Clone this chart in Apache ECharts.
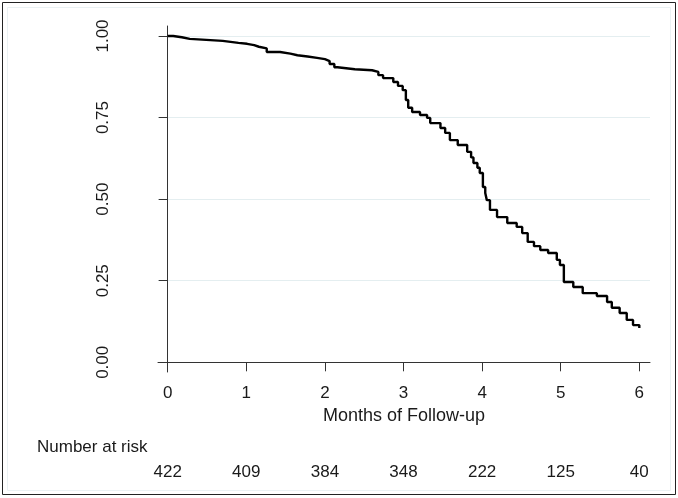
<!DOCTYPE html>
<html>
<head>
<meta charset="utf-8">
<title>Kaplan-Meier</title>
<script src="https://cdn.jsdelivr.net/npm/echarts@6/dist/echarts.min.js"></script>
<style>
  html, body { margin: 0; padding: 0; background: #fff; }
  #chart { width: 678px; height: 498px; }
</style>
</head>
<body>
<div id="chart"></div>
<script>
// step times (months) and survival after each step
var months = [
  0.00, 0.07, 0.18, 0.28, 0.70, 0.90, 1.01, 1.10, 1.16, 1.26,
  1.43, 1.56, 1.65, 1.78, 1.90, 2.00, 2.06, 2.12, 2.16, 2.38,
  2.60, 2.68, 2.74, 2.87, 2.93, 2.99, 3.03, 3.06, 3.11, 3.21,
  3.30, 3.34, 3.47, 3.53, 3.59, 3.69, 3.81, 3.86, 3.89, 3.94,
  3.97, 4.01, 4.04, 4.06, 4.10, 4.19, 4.32, 4.44, 4.51, 4.58,
  4.66, 4.74, 4.84, 4.95, 4.99, 5.04, 5.16, 5.28, 5.46, 5.59,
  5.65, 5.75, 5.84, 5.92, 6.00
];
var survival = [
  1.000, 0.996, 0.991, 0.985, 0.979, 0.976, 0.972, 0.967, 0.962, 0.951,
  0.946, 0.941, 0.937, 0.933, 0.929, 0.923, 0.914, 0.904, 0.898, 0.895,
  0.890, 0.880, 0.871, 0.859, 0.847, 0.834, 0.804, 0.780, 0.767, 0.758,
  0.749, 0.733, 0.718, 0.703, 0.681, 0.666, 0.645, 0.628, 0.611, 0.596,
  0.580, 0.537, 0.519, 0.497, 0.467, 0.445, 0.427, 0.415, 0.396, 0.369,
  0.356, 0.344, 0.335, 0.314, 0.298, 0.246, 0.231, 0.212, 0.203, 0.185,
  0.167, 0.151, 0.130, 0.114, 0.105
];
var monthTicks = [0, 1, 2, 3, 4, 5, 6];
var atRisk = [422, 409, 384, 348, 222, 125, 40];
var yTicks = [0, 0.25, 0.5, 0.75, 1];

var font = "'Liberation Sans', Arial, sans-serif";
var ink = "#1a1a1a";

var chart = echarts.init(document.getElementById("chart"));

var option = {
  animation: false,
  backgroundColor: "#fff",
  grid: { left: 158, right: 28, top: 26, bottom: 126 },
  xAxis: [
    {
      type: "value",
      min: -0.1234,
      max: 6.136,
      name: "Months of Follow-up",
      nameLocation: "middle",
      nameGap: 28,
      nameTextStyle: { fontFamily: font, fontSize: 18, color: ink },
      axisLine: { lineStyle: { color: "#333", width: 1 } },
      axisTick: { show: true, length: 9, customValues: monthTicks, lineStyle: { color: "#333" } },
      axisLabel: {
        customValues: monthTicks,
        margin: 13,
        fontFamily: font,
        fontSize: 17,
        color: ink
      },
      splitLine: { show: false }
    },
    {
      // number at risk row
      type: "value",
      position: "bottom",
      offset: 92,
      min: -0.1234,
      max: 6.136,
      axisLine: { show: false },
      axisTick: { show: false, customValues: monthTicks },
      axisLabel: {
        customValues: monthTicks,
        margin: 0,
        fontFamily: font,
        fontSize: 17,
        color: ink,
        formatter: function (v) {
          return String(atRisk[monthTicks.indexOf(Math.round(v))]);
        }
      },
      splitLine: { show: false }
    }
  ],
  yAxis: {
    type: "value",
    min: -0.0297,
    max: 1.0306,
    axisLine: { show: true, lineStyle: { color: "#333", width: 1 } },
    axisTick: { show: true, length: 9, customValues: yTicks, lineStyle: { color: "#333" } },
    axisLabel: {
      customValues: yTicks,
      rotate: 90,
      margin: 46,
      fontFamily: font,
      fontSize: 17,
      color: ink,
      formatter: function (v) { return v.toFixed(2); }
    },
    splitLine: { show: true, lineStyle: { color: "#e4eef0", width: 1 } }
  },
  graphic: [
    {
      type: "rect",
      shape: { x: 2.5, y: 2.5, width: 673, height: 492 },
      style: { fill: null, stroke: "#222", lineWidth: 1 }
    },
    {
      type: "rect",
      shape: { x: 7.5, y: 7.5, width: 663, height: 483 },
      style: { fill: null, stroke: "#eaf1f3", lineWidth: 1 }
    },
    {
      type: "text",
      left: 37,
      top: 439,
      style: { text: "Number at risk", font: "17px " + font, fill: ink }
    }
  ],
  series: [
    {
      type: "line",
      step: "end",
      xAxisIndex: 0,
      showSymbol: false,
      data: months.map(function (t, i) { return [t, survival[i]]; }),
      lineStyle: { color: "#000", width: 2.4 }
    }
  ]
};

chart.setOption(option);
</script>
</body>
</html>
